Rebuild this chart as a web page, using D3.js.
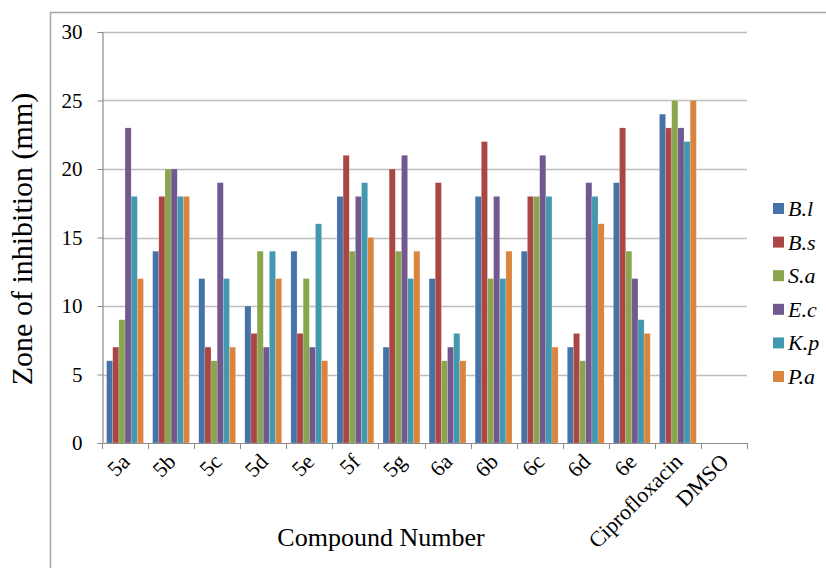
<!DOCTYPE html>
<html>
<head>
<meta charset="utf-8">
<script src="https://cdn.jsdelivr.net/npm/d3@7"></script>
<style>
  html, body { margin: 0; padding: 0; background: #fff; }
  svg { display: block; }
  text { font-family: "Liberation Serif", Tinos, "Times New Roman", Times, "DejaVu Serif", serif; fill: #000; }
</style>
</head>
<body>
<svg id="chart" width="826" height="568"></svg>
<script>
const categories = ["5a","5b","5c","5d","5e","5f","5g","6a","6b","6c","6d","6e","Ciprofloxacin","DMSO"];
const seriesNames = ["B.l","B.s","S.a","E.c","K.p","P.a"];
const Bl = [6,14,12,10,14,18,7,12,18,14,7,19,24,0];
const Bs = [7,18,7,8,8,21,20,19,22,18,8,23,23,0];
const Sa = [9,20,6,14,12,14,14,6,12,18,6,14,25,0];
const Ec = [23,20,19,7,7,18,21,7,18,21,19,12,23,0];
const Kp = [18,18,12,14,16,19,12,8,12,18,18,9,22,0];
const Pa = [12,18,7,12,6,15,14,6,14,7,16,8,25,0];
const yTicks = [0,5,10,15,20,25,30];
const colors = ["#4572A7","#AA4643","#89A54E","#71588F","#4198AF","#DB843D"];

const seriesValues = [Bl, Bs, Sa, Ec, Kp, Pa];

const svg = d3.select("#chart");
const plotL = 102, plotR = 747, plotT = 32, plotB = 443;

// outer frame
svg.append("path")
  .attr("d", "M50.5,568 L50.5,12.5 L826,12.5")
  .attr("fill", "none").attr("stroke", "#A6A6A6").attr("stroke-width", 1.5);

const x0 = d3.scaleBand().domain(categories).range([plotL, plotR]).paddingInner(0).paddingOuter(0);
const gapRatio = 1.5;
const bw = x0.bandwidth() / (seriesNames.length + gapRatio);
const y = d3.scaleLinear().domain([0, 30]).range([plotB, plotT]);

// gridlines
svg.append("g").selectAll("line").data(yTicks.filter(d => d > 0)).join("line")
  .attr("x1", plotL).attr("x2", plotR)
  .attr("y1", d => Math.round(y(d)) + 0.5).attr("y2", d => Math.round(y(d)) + 0.5)
  .attr("stroke", "#BDBDBD").attr("stroke-width", 1.3);

// bars
const groups = svg.append("g").selectAll("g").data(categories).join("g")
  .attr("transform", d => `translate(${x0(d) + bw * gapRatio / 2},0)`);
groups.selectAll("rect")
  .data((c, i) => seriesValues.map((vals, s) => ({ s, v: vals[i] })).filter(d => d.v > 0))
  .join("rect")
  .attr("x", d => d.s * bw)
  .attr("width", bw)
  .attr("y", d => y(d.v))
  .attr("height", d => y(0) - y(d.v))
  .attr("fill", d => colors[d.s])
  .attr("stroke", "#ffffff").attr("stroke-opacity", 0.3).attr("stroke-width", 0.6);

// y axis
const yAxis = d3.axisLeft(y).tickValues(yTicks).tickSize(5).tickPadding(15).tickFormat(d3.format("d"));
const gy = svg.append("g").attr("transform", `translate(${plotL + 0.5},0)`).call(yAxis);
gy.attr("font-family", null);
gy.select(".domain").attr("stroke", "#8C8C8C").attr("stroke-width", 1.2);
gy.selectAll(".tick line").attr("stroke", "#8C8C8C");
gy.selectAll(".tick text").attr("font-size", 21).attr("fill", "#000");

// x axis
const boundaries = d3.range(categories.length + 1).map(i => plotL + i * x0.bandwidth());
const gx = svg.append("g");
gx.append("line").attr("x1", plotL).attr("x2", plotR).attr("y1", plotB + 0.5).attr("y2", plotB + 0.5)
  .attr("stroke", "#8C8C8C").attr("stroke-width", 1.2);
gx.selectAll("line.tk").data(boundaries).join("line").attr("class", "tk")
  .attr("x1", d => Math.round(d) + 0.5).attr("x2", d => Math.round(d) + 0.5)
  .attr("y1", plotB).attr("y2", plotB + 6).attr("stroke", "#8C8C8C");
gx.selectAll("text.lbl").data(categories).join("text").attr("class", "lbl")
  .attr("transform", d => `translate(${x0(d) + x0.bandwidth() / 2 + 6},${plotB + 20}) rotate(-45)`)
  .attr("text-anchor", "end")
  .attr("font-size", 22)
  .text(d => d);

// axis titles
svg.append("text")
  .attr("transform", `translate(32,239) rotate(-90)`)
  .attr("text-anchor", "middle")
  .attr("font-size", 30)
  .text("Zone of inhibition (mm)");
svg.append("text")
  .attr("x", 381).attr("y", 546)
  .attr("text-anchor", "middle")
  .attr("font-size", 26)
  .text("Compound Number");

// legend
const lg = svg.append("g").selectAll("g").data(seriesNames).join("g")
  .attr("transform", (d, i) => `translate(773,${209 + i * 33.6})`);
lg.append("rect").attr("x", 0).attr("y", -6).attr("width", 11).attr("height", 11)
  .attr("fill", (d, i) => colors[i]);
lg.append("text").attr("x", 15).attr("y", 7)
  .attr("font-size", 22).attr("font-style", "italic")
  .text(d => d);
</script>
</body>
</html>
